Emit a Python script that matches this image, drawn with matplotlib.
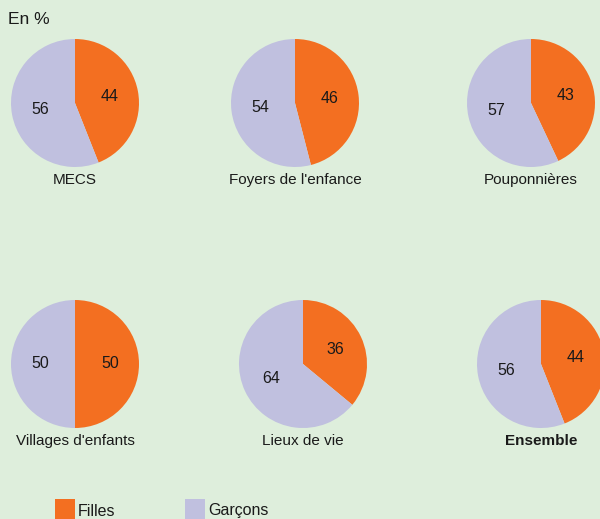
import matplotlib
matplotlib.use("Agg")
import matplotlib.pyplot as plt
from matplotlib.patches import Rectangle

# Data
etablissements = ["MECS", "Foyers de l'enfance", "Pouponnières",
                  "Villages d'enfants", "Lieux de vie", "Ensemble"]
filles = [44, 46, 43, 50, 36, 44]
garcons = [56, 54, 57, 50, 64, 56]

c_filles = "#f36f21"
c_garcons = "#c0c0df"
bg = "#deeedc"

plt.rcParams['font.family'] = ['Liberation Sans', 'DejaVu Sans']

W, H = 600, 519
fig = plt.figure(figsize=(W / 100, H / 100), dpi=100, facecolor=bg)

# pie centres in pixels (x, y from top), radius in pixels
centres = [(75, 103), (295, 103), (531, 103),
           (75, 364), (303, 364), (541, 364)]
r = 64

for i, (cx, cy) in enumerate(centres):
    ax = fig.add_axes([(cx - r) / W, 1 - (cy + r) / H, 2 * r / W, 2 * r / H])
    ax.pie([filles[i], garcons[i]], colors=[c_filles, c_garcons],
           startangle=90, counterclock=False, radius=1,
           labels=[str(filles[i]), str(garcons[i])], labeldistance=0.55,
           textprops=dict(fontsize=11.5, ha='center', va='center', color='#1a1a1a'),
           wedgeprops=dict(linewidth=0))
    ax.set_xlim(-1, 1)
    ax.set_ylim(-1, 1)
    ax.set_aspect('equal')
    ax.axis('off')
    bold = 'bold' if etablissements[i] == "Ensemble" else 'normal'
    fig.text(cx / W, 1 - (cy + r + 13) / H, etablissements[i], ha='center', va='center',
             fontsize=11, fontweight=bold, color='#1a1a1a')

fig.text(8 / W, 1 - 20 / H, "En %", ha='left', va='center', fontsize=12.5, color='#1a1a1a')

# legend
for x, lab, col in [(55, "Filles", c_filles), (185, "Garçons", c_garcons)]:
    fig.patches.append(Rectangle((x / W, 1 - 519 / H), 20 / W, 20 / H,
                                 transform=fig.transFigure, facecolor=col, edgecolor='none'))
    fig.text((x + 23) / W, 1 - 511 / H, lab, ha='left', va='center', fontsize=11.5, color='#1a1a1a')

fig.savefig("out.png", dpi=100, facecolor=bg)
